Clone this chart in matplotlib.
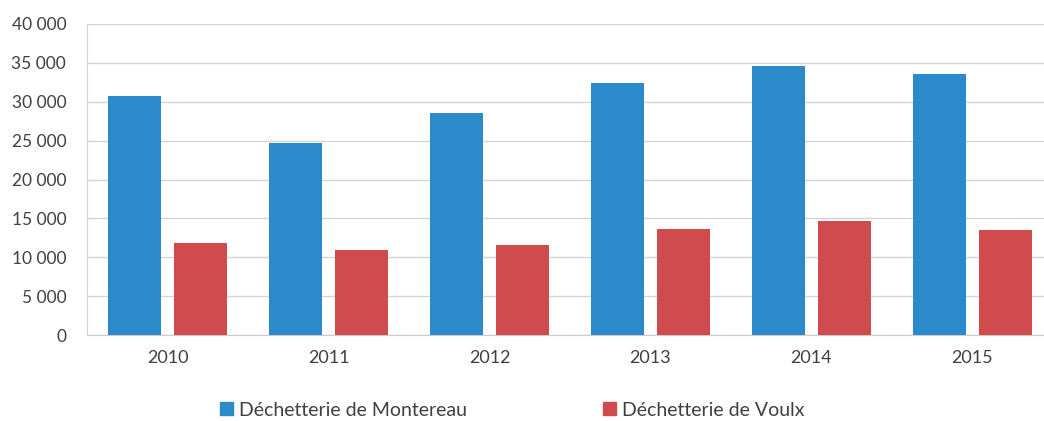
import matplotlib
matplotlib.use("Agg")
import matplotlib.pyplot as plt
from matplotlib.patches import Patch
from matplotlib.ticker import FuncFormatter
import numpy as np

years = ["2010", "2011", "2012", "2013", "2014", "2015"]
montereau = [30700, 24700, 28550, 32400, 34600, 33550]
voulx = [11800, 10950, 11550, 13600, 14650, 13500]
series_names = ["Déchetterie de Montereau", "Déchetterie de Voulx"]

blue = "#2a8aca"
red = "#cf4b4d"

plt.rcParams['font.family'] = ['Lato', 'DejaVu Sans']

fig = plt.figure(figsize=(10.44, 4.21), dpi=100)
ax = fig.add_axes([87/1044, 86/421, 966/1044, 311/421])

x = np.arange(len(years))
w = 0.33
ax.bar(x - 0.207, montereau, width=w, color=blue, zorder=3)
ax.bar(x + 0.207, voulx, width=w, color=red, zorder=3)

ax.set_xlim(-0.5, len(years) - 0.5)
ax.set_ylim(0, 40000)
ax.set_yticks(np.arange(0, 40001, 5000))
ax.yaxis.set_major_formatter(FuncFormatter(lambda v, p: f"{int(v):,}".replace(",", " ")))
ax.set_xticks(x)
ax.set_xticklabels(years)
ax.grid(axis="y", color="#d9d4d4", linewidth=1, zorder=0)

for s in ["top", "right"]:
    ax.spines[s].set_visible(False)
ax.spines["left"].set_color("#d9d4d4")
ax.spines["bottom"].set_color("#cfcaca")
ax.tick_params(axis="both", length=0, colors="#404040", labelsize=12.5)
ax.tick_params(axis="x", pad=11, labelsize=13)
ax.tick_params(axis="y", pad=15)

handles = [Patch(color=blue), Patch(color=red)]
fig.legend(handles, series_names, loc="center", bbox_to_anchor=(512/1044, 1 - 410/421),
           ncol=2, frameon=False, fontsize=14, handlelength=0.67, handleheight=0.67,
           handletextpad=0.3, columnspacing=7.0, labelcolor="#404040")

fig.savefig("out.png", dpi=100)
